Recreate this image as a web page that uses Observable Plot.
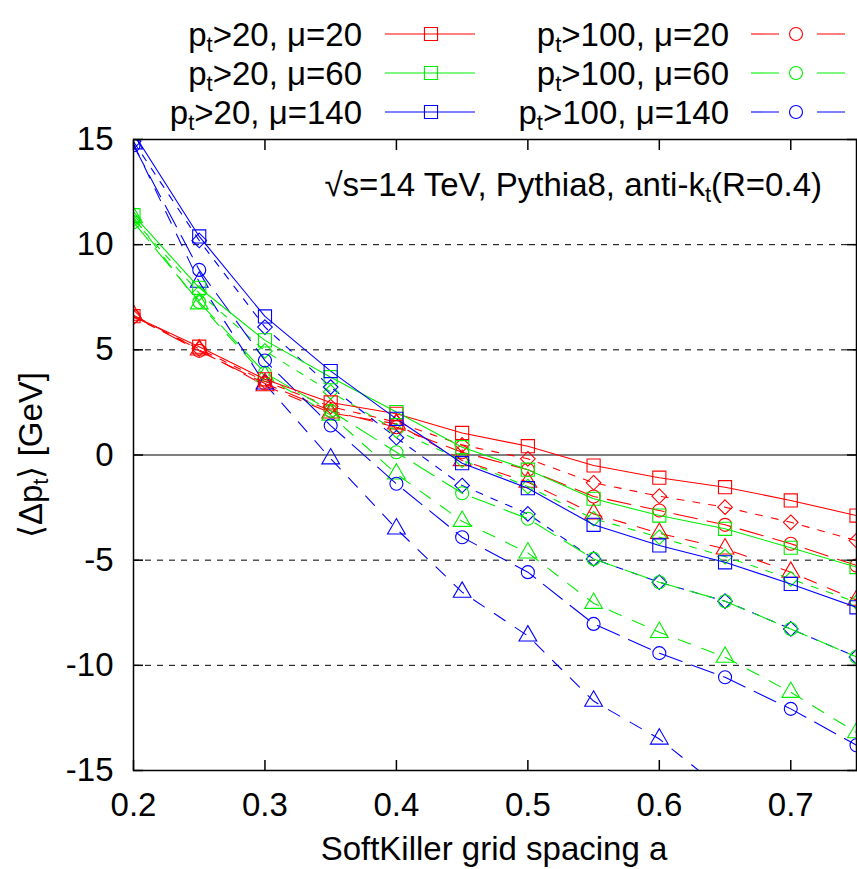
<!DOCTYPE html>
<html><head><meta charset="utf-8">
<script src="https://cdn.jsdelivr.net/npm/d3@7"></script>
<script src="https://cdn.jsdelivr.net/npm/@observablehq/plot@0.6"></script>
<style>body{margin:0;background:#fff}#chart{width:857px;height:869px;overflow:hidden}</style>
</head><body><div id="chart"></div>
<script>
// grid spacing a
const spacing = [0.2,0.25,0.3,0.35,0.4,0.45,0.5,0.55,0.6,0.65,0.7,0.75];
// <Δpt> [GeV] per series
const red_square   = [6.6,5.15,3.6,2.5,1.96,1.05,0.42,-0.5,-1.08,-1.53,-2.16,-2.88];
const red_diamond  = [6.55,5.05,3.5,2.3,1.56,0.48,-0.18,-1.32,-1.96,-2.48,-3.2,-4.07];
const red_circle   = [6.6,4.95,3.4,2.1,1.32,0.13,-0.7,-1.97,-2.64,-3.32,-4.22,-5.25];
const red_triangle = [6.65,5.0,3.3,2.0,1.48,-0.26,-1.29,-2.8,-3.72,-4.46,-5.57,-6.9];
const green_square   = [11.4,7.95,5.45,3.7,2.04,0.37,-0.7,-2.08,-2.88,-3.51,-4.41,-5.33];
const green_diamond  = [11.2,7.7,4.95,3.0,1.16,-0.25,-1.5,-3.03,-3.91,-4.83,-5.89,-7.0];
const green_circle   = [11.07,7.27,3.9,2.1,0.13,-1.82,-3.03,-4.94,-6.05,-6.95,-8.27,-9.6];
const green_triangle = [11.3,7.19,3.75,1.9,-0.9,-3.15,-4.65,-7.05,-8.43,-9.61,-11.28,-13.2];
const blue_square   = [15.3,10.39,6.59,3.99,1.72,-0.39,-1.58,-3.32,-4.3,-5.1,-6.13,-7.24];
const blue_diamond  = [14.9,10.2,6.08,3.23,0.82,-1.45,-2.8,-4.94,-6.05,-6.95,-8.27,-9.6];
const blue_circle   = [14.72,8.8,4.49,1.4,-1.37,-3.91,-5.57,-8.03,-9.42,-10.57,-12.07,-13.8];
const blue_triangle = [14.8,8.22,3.38,-0.18,-3.51,-6.52,-8.6,-11.7,-13.5,-16.0,-18.2,-20.3];

const xTicks = [0.2,0.3,0.4,0.5,0.6,0.7];
const yTicks = [-15,-10,-5,0,5,10,15];
const gridY = [-10,-5,5,10];
const legendLeft = [["20","20"],["20","60"],["20","140"]];
const legendRight = [["100","20"],["100","60"],["100","140"]];
const title = "√s=14 TeV, Pythia8, anti-k";

const COLORS = {red:"#ff0000", green:"#00ee00", blue:"#0000ff"};
const DASH = {square:null, circle:"24,10", diamond:"7,9", triangle:"13,12"};
const SYM = {square:"square", circle:"circle", diamond:"diamond2", triangle:"triangle"};
const R = {square:7.4, circle:6.5, diamond:6.6, triangle:6.6};

const seriesList = [
  ["red","square",red_square],["red","diamond",red_diamond],["red","circle",red_circle],["red","triangle",red_triangle],
  ["green","square",green_square],["green","diamond",green_diamond],["green","circle",green_circle],["green","triangle",green_triangle],
  ["blue","square",blue_square],["blue","diamond",blue_diamond],["blue","circle",blue_circle],["blue","triangle",blue_triangle]
];
const rows = seriesList.flatMap(([c,m,vals]) => vals.map((v,i)=>({x:spacing[i], y:v, color:COLORS[c], marker:m, series:c+"-"+m})));

const FONT = "'Liberation Sans', Arial, Helvetica, sans-serif";
const FS = 33, SUB = 22, SUBDY = 6;
const marks = [
  Plot.ruleY(gridY, {stroke:"#000", strokeWidth:1, strokeDasharray:"6,6"}),
  Plot.ruleY([0], {stroke:"#000", strokeWidth:1.2}),
];
for (const m of ["triangle","diamond","circle","square"]) {
  const d = rows.filter(r=>r.marker===m);
  marks.push(Plot.line(d, {x:"x", y:"y", z:"series", stroke:"color", strokeWidth:1.1, strokeDasharray: DASH[m] || undefined, clip:true}));
  marks.push(Plot.dot(d, {x:"x", y:"y", stroke:"color", fill:"none", symbol:SYM[m], r:R[m], strokeWidth:1.1, clip:true}));
}
marks.push(
  Plot.axisX(xTicks, {anchor:"bottom", tickSize:-10, tickPadding:32, fontSize:FS, tickFormat:d=>d.toFixed(1), label:null, stroke:"#000", strokeWidth:1.5}),
  Plot.axisX(xTicks, {anchor:"top", tickSize:-10, tickFormat:()=>"", label:null, strokeWidth:1.5}),
  Plot.axisY(yTicks, {anchor:"left", tickSize:-10, tickPadding:30, fontSize:FS, tickFormat:d=>String(d), label:null, strokeWidth:1.5}),
  Plot.axisY(yTicks, {anchor:"right", tickSize:-10, tickFormat:()=>"", label:null, strokeWidth:1.5}),
  Plot.frame({stroke:"#000", strokeWidth:1.5})
);

const chart = Plot.plot({
  width:857, height:869,
  marginLeft:133, marginRight:1, marginTop:139, marginBottom:99,
  x:{domain:[0.2,0.75]},
  y:{domain:[-15,15]},
  color:{type:"identity"},
  style:{fontFamily:FONT, fontSize:FS+"px", color:"#000", background:"#fff"},
  marks
});
document.getElementById("chart").append(chart);

// overlays: legend, title, axis labels
const svg = d3.select(chart);
const g = svg.append("g").attr("font-family", FONT).attr("font-size", FS).attr("fill", "#000");
function ptText(x, y, pt, mu, anchor) {
  const t = g.append("text").attr("x", x).attr("y", y).attr("text-anchor", anchor);
  t.append("tspan").text("p");
  t.append("tspan").attr("font-size", SUB).attr("dy", SUBDY).text("t");
  t.append("tspan").attr("dy", -SUBDY).text(">" + pt + ", μ=" + mu);
}
const cols = [COLORS.red, COLORS.green, COLORS.blue];
const rowsY = [46, 85, 124];
function symPath(m) {
  const type = {square:d3.symbolSquare, circle:d3.symbolCircle, diamond:d3.symbolDiamond2, triangle:d3.symbolTriangle}[m];
  return d3.symbol(type, Math.PI*R[m]*R[m])();
}
legendLeft.forEach(([pt,mu],i)=>{
  ptText(362, rowsY[i], pt, mu, "end");
  const cy = rowsY[i]-12;
  g.append("line").attr("x1",385).attr("x2",475).attr("y1",cy).attr("y2",cy).attr("stroke",cols[i]).attr("stroke-width",1.1);
  g.append("path").attr("d",symPath("square")).attr("transform",`translate(431,${cy})`).attr("fill","none").attr("stroke",cols[i]).attr("stroke-width",1.1);
});
legendRight.forEach(([pt,mu],i)=>{
  ptText(729, rowsY[i], pt, mu, "end");
  const cy = rowsY[i]-12;
  g.append("line").attr("x1",751).attr("x2",870).attr("y1",cy).attr("y2",cy).attr("stroke",cols[i]).attr("stroke-width",1.1).attr("stroke-dasharray","28,38");
  g.append("path").attr("d",symPath("circle")).attr("transform",`translate(796,${cy})`).attr("fill","none").attr("stroke",cols[i]).attr("stroke-width",1.1);
});
// title
{
  const t = g.append("text").attr("x", 822).attr("y", 196).attr("text-anchor","end");
  t.append("tspan").text(title);
  t.append("tspan").attr("font-size",SUB).attr("dy",SUBDY).text("t");
  t.append("tspan").attr("dy",-SUBDY).text("(R=0.4)");
}
// x label
g.append("text").attr("x", 494).attr("y", 860).attr("text-anchor","middle").text("SoftKiller grid spacing a");
// y label
{
  const t = g.append("text").attr("transform","translate(42,455) rotate(-90)").attr("text-anchor","middle");
  t.append("tspan").text("⟨Δp");
  t.append("tspan").attr("font-size",SUB).attr("dy",SUBDY).text("t");
  t.append("tspan").attr("dy",-SUBDY).text("⟩ [GeV]");
}
</script>
</body></html>
